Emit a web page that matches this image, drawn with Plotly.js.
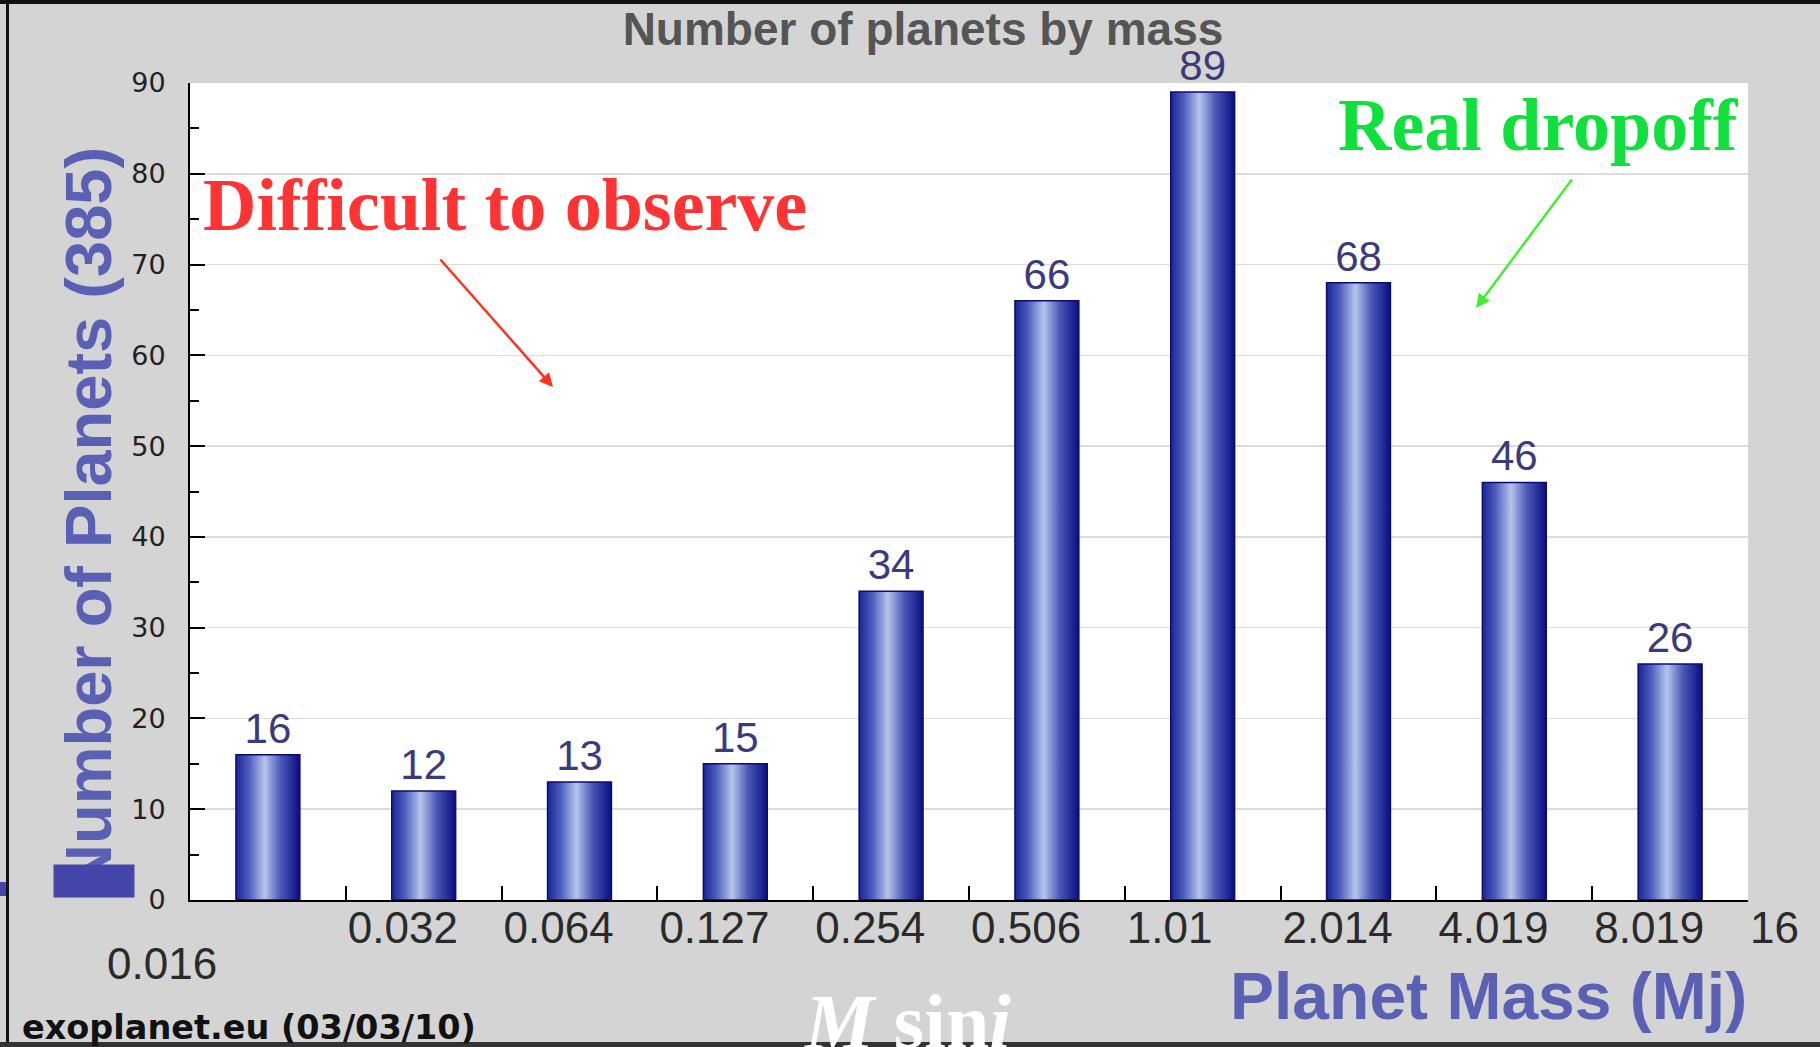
<!DOCTYPE html>
<html>
<head>
<meta charset="utf-8">
<script src="https://cdn.plot.ly/plotly-3.0.1.min.js"></script>
<style>
  html, body { margin: 0; padding: 0; background: #d4d4d4; }
  #chart { width: 1820px; height: 1047px; }
</style>
</head>
<body>
<div id="chart"></div>
<script>
// ---- data ----
const tickLabels = ['0.016', '0.032', '0.064', '0.127', '0.254', '0.506', '1.01', '2.014', '4.019', '8.019', '16'];
const counts = [16, 12, 13, 15, 34, 66, 89, 68, 46, 26];
const yTickValues = [0, 10, 20, 30, 40, 50, 60, 70, 80, 90];
const chartTitle = 'Number of planets by mass';
const yTitle = 'Number of Planets (385)';
const xTitle = 'Planet Mass (Mj)';
const noteLeft = 'Difficult to observe';
const noteRight = 'Real dropoff';
const source = 'exoplanet.eu (03/03/10)';

// bins: bar i sits between boundary i and i+1
const binCenters = counts.map((_, i) => i + 0.5);
const boundaries = tickLabels.map((_, i) => i);

// pixel helpers for decorations (plot area: x 190..1748, y 83..900)
const L = 190, R = 1748, T = 83, B = 900;
const px = p => (p - L) / (R - L);
const py = p => (B - p) / (B - T);

const trace = {
  type: 'bar',
  x: binCenters,
  y: counts,
  width: 0.41,
  text: counts.map(String),
  textposition: 'outside',
  constraintext: 'none',
  cliponaxis: false,
  textfont: { family: 'Liberation Sans, Arial, sans-serif', size: 42, color: '#3a3a7c' },
  marker: { color: '#3340a8', line: { color: '#0c0c70', width: 1.5 } },
  hoverinfo: 'none'
};

const layout = {
  width: 1820,
  height: 1047,
  margin: { l: L, r: 1820 - R, t: T, b: 1047 - B, pad: 0 },
  paper_bgcolor: '#d4d4d4',
  plot_bgcolor: '#ffffff',
  showlegend: false,
  title: {
    text: '<b>' + chartTitle + '</b>',
    font: { family: 'Liberation Sans, Arial, sans-serif', size: 46, color: '#555555' },
    x: 923 / 1820, xanchor: 'center', xref: 'container',
    y: 1 - 29 / 1047, yanchor: 'middle', yref: 'container'
  },
  xaxis: {
    range: [0, 10],
    tickmode: 'array',
    tickvals: boundaries.slice(1),
    ticktext: tickLabels.slice(1),
    ticklabelposition: 'outside right',
    ticklabelstandoff: -12,
    ticks: 'inside', ticklen: 14, tickwidth: 2, tickcolor: '#000',
    showline: true, linecolor: '#000', linewidth: 2,
    showgrid: false, zeroline: false,
    tickfont: { family: 'Liberation Sans, Arial, sans-serif', size: 44, color: '#2a2a2a' },
    fixedrange: true
  },
  yaxis: {
    range: [0, 90],
    tickmode: 'array',
    tickvals: yTickValues,
    ticks: 'inside', ticklen: 15, tickwidth: 2, tickcolor: '#000',
    minor: { ticks: 'inside', ticklen: 9, dtick: 5, tick0: 0, tickwidth: 2, tickcolor: '#000', showgrid: false },
    showgrid: true, gridcolor: '#dcdcdc', gridwidth: 1.5,
    showline: true, linecolor: '#000', linewidth: 2,
    zeroline: false,
    ticklabelstandoff: 17,
    tickfont: { family: 'DejaVu Sans, sans-serif', size: 27, color: '#222222' },
    fixedrange: true
  },
  shapes: [
    // frame lines
    { type: 'rect', xref: 'paper', yref: 'paper', x0: px(0), x1: px(1820), y0: py(0), y1: py(4), fillcolor: '#111', line: { width: 0 }, layer: 'above' },
    { type: 'rect', xref: 'paper', yref: 'paper', x0: px(6), x1: px(9), y0: py(0), y1: py(1047), fillcolor: '#111', line: { width: 0 }, layer: 'above' },
    { type: 'rect', xref: 'paper', yref: 'paper', x0: px(0), x1: px(1820), y0: py(1042), y1: py(1047), fillcolor: '#333', line: { width: 0 }, layer: 'above' },
    { type: 'rect', xref: 'paper', yref: 'paper', x0: px(0), x1: px(6), y0: py(882), y1: py(896), fillcolor: '#4446aa', line: { width: 0 }, layer: 'above' }
  ],
  annotations: [
    { text: '<b>' + yTitle + '</b>', textangle: -90, showarrow: false,
      xref: 'paper', yref: 'paper', x: px(88), y: py(519), xanchor: 'center', yanchor: 'middle',
      font: { family: 'Liberation Sans, Arial, sans-serif', size: 65, color: '#5a60b4' } },
    // blue block covering part of the title
    { text: ' ', showarrow: false, width: 80, height: 32, bgcolor: '#4446aa', borderpad: 0,
      xref: 'paper', yref: 'paper', x: px(94), y: py(881), xanchor: 'center', yanchor: 'middle' },
    { text: '<b>' + xTitle + '</b>', showarrow: false,
      xref: 'paper', yref: 'paper', x: px(1488), y: py(996), xanchor: 'center', yanchor: 'middle',
      font: { family: 'Liberation Sans, Arial, sans-serif', size: 66, color: '#5a60b4' } },
    { text: tickLabels[0], showarrow: false,
      xref: 'x', yref: 'paper', x: boundaries[0], xshift: -28, y: py(963), xanchor: 'center', yanchor: 'middle',
      font: { family: 'Liberation Sans, Arial, sans-serif', size: 44, color: '#2a2a2a' } },
    { text: '<b>' + noteLeft + '</b>', showarrow: false,
      xref: 'paper', yref: 'paper', x: px(201), y: py(205), xanchor: 'left', yanchor: 'middle',
      font: { family: 'Liberation Serif, Times New Roman, serif', size: 74, color: '#ff3333' } },
    { text: '<b>' + noteRight + '</b>', showarrow: false,
      xref: 'paper', yref: 'paper', x: px(1336), y: py(125), xanchor: 'left', yanchor: 'middle',
      font: { family: 'Liberation Serif, Times New Roman, serif', size: 74, color: '#10e03c' } },
    { text: '', showarrow: true, arrowhead: 2, arrowsize: 1.1, arrowwidth: 2.5, arrowcolor: '#ff3322',
      xref: 'x', yref: 'y', axref: 'x', ayref: 'y',
      x: px(553) * 10, y: py(387) * 90, ax: px(439) * 10, ay: py(258) * 90 },
    { text: '', showarrow: true, arrowhead: 2, arrowsize: 1.1, arrowwidth: 2.5, arrowcolor: '#44ee33',
      xref: 'x', yref: 'y', axref: 'x', ayref: 'y',
      x: px(1476) * 10, y: py(308) * 90, ax: px(1573) * 10, ay: py(178) * 90 },
    { text: '<b><i>M</i> sin<i>i</i></b>', showarrow: false,
      xref: 'paper', yref: 'paper', x: px(907), y: py(1021), xanchor: 'center', yanchor: 'middle',
      font: { family: 'Liberation Serif, Times New Roman, serif', size: 78, color: '#ffffff' } },
    { text: '<b>' + source + '</b>', showarrow: false,
      xref: 'paper', yref: 'paper', x: px(20), y: py(1027), xanchor: 'left', yanchor: 'middle',
      font: { family: 'DejaVu Sans, sans-serif', size: 33.5, color: '#111111' } }
  ]
};

Plotly.newPlot('chart', [trace], layout, { displayModeBar: false, staticPlot: true }).then(gd => {
  const ns = 'http://www.w3.org/2000/svg';
  const svg = gd.querySelector('svg.main-svg');
  let defs = svg.querySelector('defs');
  if (!defs) { defs = document.createElementNS(ns, 'defs'); svg.insertBefore(defs, svg.firstChild); }
  const lg = document.createElementNS(ns, 'linearGradient');
  lg.setAttribute('id', 'barGrad');
  lg.setAttribute('x1', '0'); lg.setAttribute('y1', '0');
  lg.setAttribute('x2', '1'); lg.setAttribute('y2', '0');
  [['0%', '#1a2596'], ['20%', '#4a5cbd'], ['45%', '#b6c4ec'], ['70%', '#4a58b6'], ['100%', '#0a0d82']].forEach(([o, c]) => {
    const s = document.createElementNS(ns, 'stop');
    s.setAttribute('offset', o); s.setAttribute('stop-color', c);
    lg.appendChild(s);
  });
  defs.appendChild(lg);
  gd.querySelectorAll('.barlayer .point path').forEach(p => { p.style.fill = 'url(#barGrad)'; });
});
</script>
</body>
</html>
